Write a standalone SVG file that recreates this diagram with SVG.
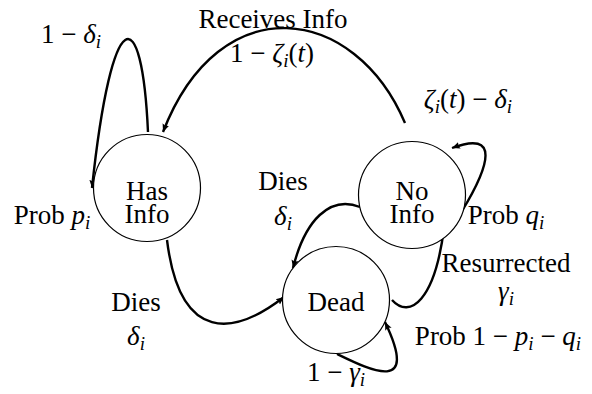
<svg xmlns="http://www.w3.org/2000/svg" width="592" height="394" viewBox="0 0 592 394">
<defs>
<marker id="ah" markerUnits="userSpaceOnUse" markerWidth="10" markerHeight="10" refX="8" refY="4" orient="auto" viewBox="0 0 10 8">
<path d="M0,0.5 L8,4 L0,7.5 L1.5,4 Z" fill="#000"/>
</marker>
</defs>
<rect width="592" height="394" fill="#fff"/>
<g id="connectors" fill="none" stroke="#000" stroke-width="2.4" marker-end="url(#ah)">
<path d="M148,132 C142,0 112,0 92,188"/>
<path d="M405,123 C355,5 220,-15 163,132"/>
<path d="M462,211 C490,165 500,130 452,148"/>
<path d="M360,207 C330,195 305,220 293,268"/>
<path d="M167,240 C180,345 235,335 284,297"/>
<path d="M392,300 C410,320 435,300 444,228"/>
<path d="M337,354 C370,370 420,395 385,322"/>
</g>
<g id="has-info">
<circle cx="147" cy="188" r="53.5" fill="#fff" stroke="#000" stroke-width="1.2"/>
<text x="147" y="200" font-family="Liberation Serif" font-size="27" text-anchor="middle">Has<tspan x="147" dy="23">Info</tspan></text>
</g>
<g id="no-info">
<circle cx="412" cy="195" r="53.5" fill="#fff" stroke="#000" stroke-width="1.2"/>
<text x="412" y="200" font-family="Liberation Serif" font-size="27" text-anchor="middle">No<tspan x="412" dy="23">Info</tspan></text>
</g>
<g id="dead">
<circle cx="336" cy="300" r="53.5" fill="#fff" stroke="#000" stroke-width="1.2"/>
<text x="336" y="311" font-family="Liberation Serif" font-size="27" text-anchor="middle">Dead</text>
</g>
<g id="labels">
<text x="273" y="28" font-family="Liberation Serif" font-size="27" text-anchor="middle">Receives Info</text>
<text x="272" y="62" font-family="Liberation Serif" font-size="27" text-anchor="middle">1 − <tspan font-style="italic">ζ</tspan><tspan font-style="italic" font-size="19" dy="5">i</tspan><tspan dy="-5">(</tspan><tspan font-style="italic">t</tspan>)</text>
<text x="71" y="43" font-family="Liberation Serif" font-size="27" text-anchor="middle">1 − <tspan font-style="italic">δ</tspan><tspan font-style="italic" font-size="19" dy="5">i</tspan></text>
<text x="468" y="108" font-family="Liberation Serif" font-size="27" text-anchor="middle"><tspan font-style="italic">ζ</tspan><tspan font-style="italic" font-size="19" dy="5">i</tspan><tspan dy="-5">(</tspan><tspan font-style="italic">t</tspan>) − <tspan font-style="italic">δ</tspan><tspan font-style="italic" font-size="19" dy="5">i</tspan></text>
<text x="52" y="224" font-family="Liberation Serif" font-size="27" text-anchor="middle">Prob <tspan font-style="italic">p</tspan><tspan font-style="italic" font-size="19" dy="5">i</tspan></text>
<text x="283" y="190" font-family="Liberation Serif" font-size="27" text-anchor="middle">Dies</text>
<text x="283" y="225" font-family="Liberation Serif" font-size="27" text-anchor="middle"><tspan font-style="italic">δ</tspan><tspan font-style="italic" font-size="19" dy="5">i</tspan></text>
<text x="136" y="311" font-family="Liberation Serif" font-size="27" text-anchor="middle">Dies</text>
<text x="136" y="345" font-family="Liberation Serif" font-size="27" text-anchor="middle"><tspan font-style="italic">δ</tspan><tspan font-style="italic" font-size="19" dy="5">i</tspan></text>
<text x="506" y="224" font-family="Liberation Serif" font-size="27" text-anchor="middle">Prob <tspan font-style="italic">q</tspan><tspan font-style="italic" font-size="19" dy="5">i</tspan></text>
<text x="506" y="272" font-family="Liberation Serif" font-size="27" text-anchor="middle">Resurrected</text>
<text x="506" y="300" font-family="Liberation Serif" font-size="27" text-anchor="middle"><tspan font-style="italic">γ</tspan><tspan font-style="italic" font-size="19" dy="5">i</tspan></text>
<text x="498" y="345" font-family="Liberation Serif" font-size="27" text-anchor="middle">Prob 1 − <tspan font-style="italic">p</tspan><tspan font-style="italic" font-size="19" dy="5">i</tspan><tspan dy="-5"> − </tspan><tspan font-style="italic">q</tspan><tspan font-style="italic" font-size="19" dy="5">i</tspan></text>
<text x="336" y="381" font-family="Liberation Serif" font-size="27" text-anchor="middle">1 − <tspan font-style="italic">γ</tspan><tspan font-style="italic" font-size="19" dy="5">i</tspan></text>
</g>
</svg>
